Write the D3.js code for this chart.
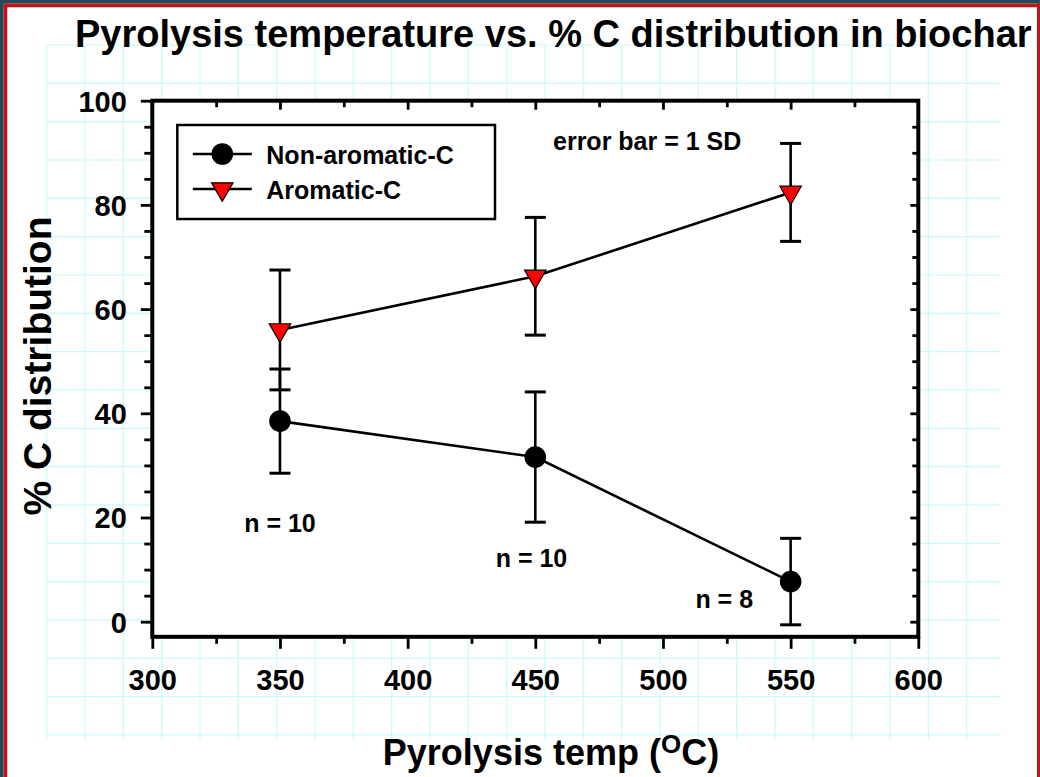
<!DOCTYPE html>
<html>
<head>
<meta charset="utf-8">
<script src="https://cdn.jsdelivr.net/npm/d3@7"></script>
<style>
  html, body { margin: 0; padding: 0; background: #fff; }
  svg { display: block; font-family: "Liberation Sans", Arial, Helvetica, sans-serif; font-weight: bold; }
</style>
</head>
<body>
<div id="chart"></div>
<script>
// Pyrolysis temperature vs % C distribution
var temps        = [350, 450, 550];
var nonAromatic  = [38.5, 31.6, 7.7];
var nonAromSD    = [10.0, 12.5, 8.3];
var aromatic     = [56.0, 66.3, 82.4];
var aromSD       = [11.5, 11.3, 9.4];
var sampleN      = [10, 10, 8];

var xMajor = [300, 350, 400, 450, 500, 550, 600];
var xMinor = [325, 375, 425, 475, 525, 575];
var yMajor = [0, 20, 40, 60, 80, 100];
var yMinor = [5, 10, 15, 25, 30, 35, 45, 50, 55, 65, 70, 75, 85, 90, 95];

// where the "n = ..." notes sit, in data units (temp, %)
var nNoteTemp = [350, 448.5, 524];
var nNoteVal  = [17.3, 10.5, 2.6];

(function () {
  var W = 1040, H = 777;

  var svg = d3.select('#chart').append('svg')
    .attr('width', W).attr('height', H);

  // ── frame of the slide ──────────────────────────────────────────────
  svg.append('rect').attr('width', W).attr('height', H).attr('fill', '#fff');
  svg.append('rect').attr('x', 0).attr('y', 0).attr('width', W).attr('height', 3.5).attr('fill', '#1d4c58');
  svg.append('rect').attr('x', 0).attr('y', 0).attr('width', 3.5).attr('height', H).attr('fill', '#1d4c58');
  svg.append('rect').attr('x', 3.5).attr('y', 3.5).attr('width', W - 3.5).attr('height', 3.8).attr('fill', '#b9151a');
  svg.append('rect').attr('x', 3.5).attr('y', 3.5).attr('width', 3.8).attr('height', H).attr('fill', '#b9151a');
  svg.append('rect').attr('x', 1037).attr('y', 3.5).attr('width', 3).attr('height', H).attr('fill', '#b9151a');

  // ── background grid paper ───────────────────────────────────────────
  var gStep = 38.33, gx0 = 46.7, gy0 = 45;
  var grid = svg.append('g').attr('stroke', '#c8fbfb').attr('stroke-width', 1.2);
  d3.range(25).forEach(function (k) {
    grid.append('line')
      .attr('x1', gx0 + k * gStep).attr('x2', gx0 + k * gStep)
      .attr('y1', gy0).attr('y2', 740);
  });
  d3.range(19).forEach(function (k) {
    grid.append('line')
      .attr('x1', gx0).attr('x2', 1001)
      .attr('y1', gy0 + k * gStep).attr('y2', gy0 + k * gStep);
  });

  // ── scales ──────────────────────────────────────────────────────────
  var x = d3.scaleLinear().domain([300, 600]).range([152.3, 918.3]);
  var y = d3.scaleLinear().domain([0, 100]).range([621.7, 100.7]);
  var yFloor = -2.9;   // frame sits a little below zero

  var pL = x(300), pR = x(600), pT = y(100), pB = y(yFloor);

  svg.append('rect')
    .attr('x', pL).attr('y', pT)
    .attr('width', pR - pL).attr('height', pB - pT)
    .attr('fill', '#fff');

  // ── axes ────────────────────────────────────────────────────────────
  function styleAxis(g) {
    g.select('.domain').remove();
    g.selectAll('.tick line').attr('stroke', '#000').attr('stroke-width', 2.8);
    g.selectAll('.tick text')
      .attr('fill', '#000')
      .style('font-size', '29px')
      .style('font-weight', 'bold')
      .style('font-family', '"Liberation Sans", Arial, sans-serif');
  }

  // left (outward)
  svg.append('g').attr('transform', 'translate(' + pL + ',0)')
    .call(d3.axisLeft(y).tickValues(yMajor).tickSize(11.5).tickPadding(14).tickFormat(d3.format('d')))
    .call(styleAxis)
    .call(function (g) { g.selectAll('.tick text').attr('dy', '0.36em'); });
  svg.append('g').attr('transform', 'translate(' + pL + ',0)')
    .call(d3.axisLeft(y).tickValues(yMinor).tickSize(8).tickFormat(''))
    .call(styleAxis);

  // bottom (outward)
  svg.append('g').attr('transform', 'translate(0,' + pB + ')')
    .call(d3.axisBottom(x).tickValues(xMajor).tickSize(12).tickPadding(0).tickFormat(d3.format('d')))
    .call(styleAxis)
    .call(function (g) { g.selectAll('.tick text').attr('y', 53.5).attr('dy', 0); });
  svg.append('g').attr('transform', 'translate(0,' + pB + ')')
    .call(d3.axisBottom(x).tickValues(xMinor).tickSize(7).tickFormat(''))
    .call(styleAxis);

  // top and right: mirrored ticks pointing inward
  svg.append('g').attr('transform', 'translate(0,' + pT + ')')
    .call(d3.axisBottom(x).tickValues(xMajor.slice(1, -1)).tickSize(9).tickFormat(''))
    .call(styleAxis);
  svg.append('g').attr('transform', 'translate(0,' + pT + ')')
    .call(d3.axisBottom(x).tickValues(xMinor).tickSize(6.5).tickFormat(''))
    .call(styleAxis);
  svg.append('g').attr('transform', 'translate(' + pR + ',0)')
    .call(d3.axisLeft(y).tickValues(yMajor.slice(0, -1)).tickSize(8).tickFormat(''))
    .call(styleAxis);
  svg.append('g').attr('transform', 'translate(' + pR + ',0)')
    .call(d3.axisLeft(y).tickValues(yMinor).tickSize(6).tickFormat(''))
    .call(styleAxis);

  svg.append('rect')
    .attr('x', pL).attr('y', pT)
    .attr('width', pR - pL).attr('height', pB - pT)
    .attr('fill', 'none').attr('stroke', '#000').attr('stroke-width', 4);

  // ── data ────────────────────────────────────────────────────────────
  var series = [
    { name: 'Non-aromatic-C', vals: nonAromatic, sd: nonAromSD, marker: 'circle' },
    { name: 'Aromatic-C',     vals: aromatic,    sd: aromSD,    marker: 'triangle' }
  ];

  var capW = 10.5;
  var plot = svg.append('g');

  series.forEach(function (s) {
    var pts = temps.map(function (t, i) { return { t: t, v: s.vals[i], sd: s.sd[i] }; });
    var eb = plot.append('g').attr('stroke', '#000').attr('stroke-width', 2.6);
    pts.forEach(function (p) {
      var cx = x(p.t);
      eb.append('line').attr('x1', cx).attr('x2', cx).attr('y1', y(p.v - p.sd)).attr('y2', y(p.v + p.sd));
      eb.append('line').attr('x1', cx - capW).attr('x2', cx + capW)
        .attr('y1', y(p.v + p.sd)).attr('y2', y(p.v + p.sd)).attr('stroke-width', 3);
      eb.append('line').attr('x1', cx - capW).attr('x2', cx + capW)
        .attr('y1', y(p.v - p.sd)).attr('y2', y(p.v - p.sd)).attr('stroke-width', 3);
    });
    s.pts = pts;
  });

  series.forEach(function (s) {
    plot.append('path')
      .datum(s.pts)
      .attr('fill', 'none').attr('stroke', '#000').attr('stroke-width', 2.6)
      .attr('d', d3.line().x(function (d) { return x(d.t); }).y(function (d) { return y(d.v); }));
  });

  var triSym = d3.symbol().type(d3.symbolTriangle).size(200);
  function drawMarker(g, kind, cx, cy) {
    if (kind === 'circle') {
      g.append('circle').attr('cx', cx).attr('cy', cy).attr('r', 10.8).attr('fill', '#000');
    } else {
      g.append('path').attr('d', triSym())
        .attr('transform', 'translate(' + cx + ',' + cy + ') rotate(180)')
        .attr('fill', '#ff0000').attr('stroke', '#000').attr('stroke-width', 1.2);
    }
  }
  series.forEach(function (s) {
    s.pts.forEach(function (p) { drawMarker(plot, s.marker, x(p.t), y(p.v)); });
  });

  // ── notes ───────────────────────────────────────────────────────────
  var notes = svg.append('g').style('font-size', '25px').attr('fill', '#000');
  sampleN.forEach(function (n, i) {
    notes.append('text')
      .attr('x', x(nNoteTemp[i])).attr('y', y(nNoteVal[i]))
      .attr('text-anchor', 'middle')
      .text('n = ' + n);
  });
  notes.append('text').attr('x', 553).attr('y', 150).text('error bar = 1 SD');

  // ── legend ──────────────────────────────────────────────────────────
  var lg = svg.append('g').attr('transform', 'translate(177.3,125)');
  lg.append('rect').attr('width', 317.7).attr('height', 94)
    .attr('fill', '#fff').attr('stroke', '#000').attr('stroke-width', 2.5);
  series.forEach(function (s, i) {
    var ly = 29 + i * 35;
    lg.append('line').attr('x1', 15.5).attr('x2', 74.5).attr('y1', ly).attr('y2', ly)
      .attr('stroke', '#000').attr('stroke-width', 2.6);
    drawMarker(lg, s.marker, 45, ly);
    lg.append('text').attr('x', 89).attr('y', ly + 10)
      .style('font-size', '25px').text(s.name);
  });

  // ── titles ──────────────────────────────────────────────────────────
  svg.append('text').attr('x', 75).attr('y', 47)
    .style('font-size', '38px').text('Pyrolysis temperature vs. % C distribution in biochar');

  var xl = svg.append('text').attr('x', 551).attr('y', 765)
    .attr('text-anchor', 'middle').style('font-size', '36px');
  xl.append('tspan').text('Pyrolysis temp (');
  xl.append('tspan').attr('dy', -12).style('font-size', '26px').text('O');
  xl.append('tspan').attr('dy', 12).text('C)');

  svg.append('text')
    .attr('transform', 'translate(51,366) rotate(-90)')
    .attr('text-anchor', 'middle')
    .style('font-size', '39px')
    .text('% C distribution');
})();
</script>
</body>
</html>
